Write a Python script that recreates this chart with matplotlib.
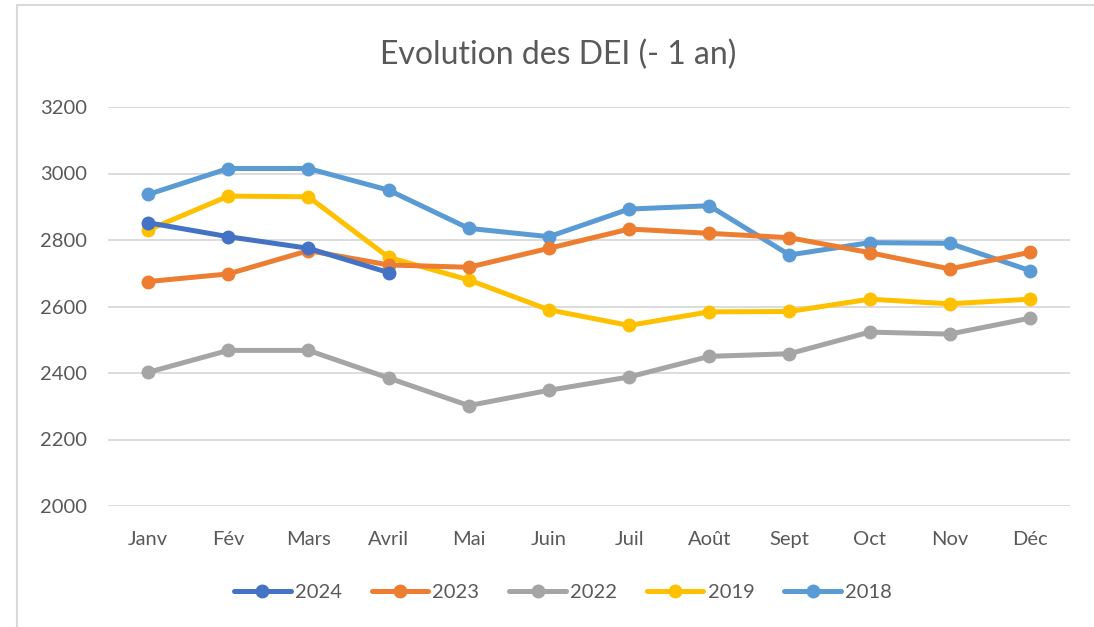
import matplotlib.pyplot as plt
from matplotlib.patches import Rectangle

# Months and yearly series
months = ['Janv', 'Fév', 'Mars', 'Avril', 'Mai', 'Juin', 'Juil', 'Août', 'Sept', 'Oct', 'Nov', 'Déc']
s2024 = [2852, 2810, 2775, 2702]
s2023 = [2675, 2698, 2768, 2725, 2718, 2775, 2833, 2820, 2807, 2762, 2713, 2763]
s2022 = [2402, 2468, 2468, 2385, 2302, 2348, 2388, 2450, 2458, 2523, 2517, 2565]
s2019 = [2830, 2932, 2930, 2748, 2680, 2590, 2543, 2584, 2585, 2622, 2608, 2622]
s2018 = [2937, 3015, 3015, 2950, 2835, 2810, 2893, 2903, 2755, 2792, 2790, 2708]

series = [('2024', s2024, '#4472C4'),
          ('2023', s2023, '#ED7D31'),
          ('2022', s2022, '#A5A5A5'),
          ('2019', s2019, '#FFC000'),
          ('2018', s2018, '#5B9BD5')]

plt.rcParams['font.family'] = ['Lato', 'DejaVu Sans']

fig = plt.figure(figsize=(10.94, 6.27), dpi=100)
ax = fig.add_axes([108 / 1094, 1 - 506 / 627, (1070 - 108) / 1094, (506 - 107) / 627])

# Draw 2018 first so 2024 stays on top, like the original
for name, vals, color in reversed(series):
    ax.plot(range(len(vals)), vals, color=color, linewidth=3.6, marker='o',
            markersize=9, label=name, solid_capstyle='round')

ax.set_xlim(-0.5, 11.5)
ax.set_ylim(2000, 3200)
ax.set_yticks(range(2000, 3201, 200))
ax.set_xticks(range(12))
ax.set_xticklabels(months)
ax.grid(axis='y', color='#D9D9D9', linewidth=1.3)
ax.set_axisbelow(True)
for sp in ax.spines.values():
    sp.set_visible(False)
ax.tick_params(length=0, labelsize=14.5, labelcolor='#595959')
ax.tick_params(axis='x', pad=18)
ax.tick_params(axis='y', pad=15)

fig.text(558 / 1094, 1 - 55 / 627, 'Evolution des DEI (- 1 an)', ha='center', va='center',
         fontsize=23, color='#595959')

handles, labels = ax.get_legend_handles_labels()
order = [4, 3, 2, 1, 0]
fig.legend([handles[i] for i in order], [labels[i] for i in order],
           loc='center', bbox_to_anchor=(563 / 1094, 1 - 592 / 627), ncol=5,
           frameon=False, fontsize=14.5, labelcolor='#595959', handlelength=2.8,
           columnspacing=1.5, handletextpad=0.2)

# light frame around chart area
fig.patches.append(Rectangle((17 / 1094, -0.01), 1.1, 1 - 5 / 627 + 0.01, transform=fig.transFigure,
                             fill=False, edgecolor='#D9D9D9', linewidth=1.5))

fig.savefig('out.png', dpi=100)
